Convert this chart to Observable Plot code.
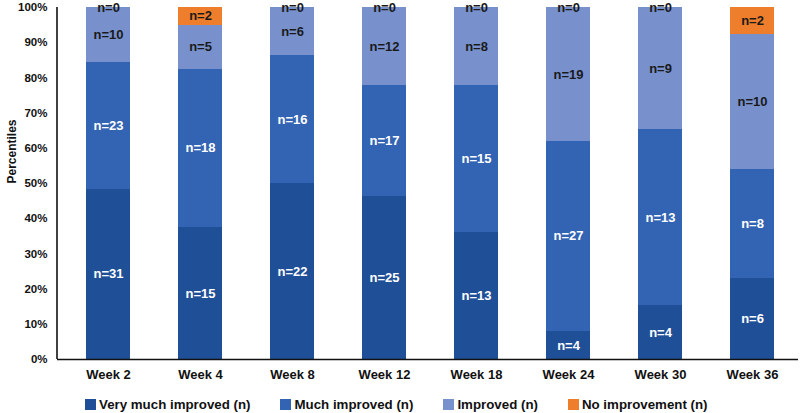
<!DOCTYPE html>
<html><head><meta charset="utf-8">
<script src="https://cdn.jsdelivr.net/npm/d3@7"></script>
<script src="https://cdn.jsdelivr.net/npm/@observablehq/plot@0.6"></script>
<style>
body{margin:0;background:#fff;font-family:"Liberation Sans",Arial,sans-serif;}
#chart svg{display:block;}
#legend{display:flex;align-items:center;height:18px;padding-top:7px;padding-left:85px;font-weight:bold;font-size:13.3px;color:#111;}
.item{display:flex;align-items:center;margin-right:30px;white-space:nowrap;}
.sw{width:11px;height:11px;margin-right:3px;}
</style></head><body><div id="chart"></div><div id="legend"></div>
<script>
const weeks = ["Week 2","Week 4","Week 8","Week 12","Week 18","Week 24","Week 30","Week 36"];
const categories = ["Very much improved (n)","Much improved (n)","Improved (n)","No improvement (n)"];
const colors = ["#1f4f97","#3363b3","#7891cd","#ee7d2c"];
const veryMuch = [31,15,22,25,13,4,4,6];
const much = [23,18,16,17,15,27,13,8];
const improved = [10,5,6,12,8,19,9,10];
const noImprovement = [0,2,0,0,0,0,0,2];
const yTicks = [0,0.1,0.2,0.3,0.4,0.5,0.6,0.7,0.8,0.9,1];
const whiteLabelCats = ["Very much improved (n)","Much improved (n)"];

const series = [veryMuch, much, improved, noImprovement];
const data = [];
weeks.forEach((w, i) => categories.forEach((c, j) => data.push({week: w, cat: c, n: series[j][i]})));

const stackOpts = {x: "week", y: "n", z: "cat", order: categories, offset: "normalize"};

const chart = Plot.plot({
  width: 800,
  height: 388,
  marginLeft: 57,
  marginRight: 2,
  marginTop: 7,
  marginBottom: 29,
  style: {fontFamily: "'Liberation Sans', Arial, sans-serif", fontWeight: "bold", background: "#fff", color: "#111"},
  x: {domain: weeks, range: [62, 798], paddingInner: 0.522, paddingOuter: 0.261},
  y: {domain: [0, 1]},
  color: {domain: categories, range: colors},
  marks: [
    Plot.barY(data, Plot.stackY({...stackOpts, fill: "cat", shapeRendering: "crispEdges"})),
    Plot.text(data, Plot.stackY({...stackOpts, text: d => whiteLabelCats.includes(d.cat) ? `n=${d.n}` : null, fill: "white", fontSize: 13, fontWeight: "bold"})),
    Plot.text(data, Plot.stackY({...stackOpts, text: d => whiteLabelCats.includes(d.cat) ? null : `n=${d.n}`, fill: "#1a1a1a", fontSize: 13, fontWeight: "bold"})),
    Plot.axisX({tickSize: 0, tickPadding: 10, fontSize: 13, fontWeight: "bold", label: null}),
    Plot.axisY({ticks: yTicks, tickFormat: d3.format(".0%"), tickSize: 0, tickPadding: 10, fontSize: 11.5, fontWeight: "bold", label: null}),
    Plot.text(["Percentiles"], {frameAnchor: "left", rotate: -90, dx: -45, fontSize: 12, fontWeight: "bold", fill: "#111"}),
    Plot.ruleY([0], {stroke: "#111", strokeWidth: 1.6})
  ]
});

// y axis domain line
const ys = chart.scale("y");
d3.select(chart).append("line")
  .attr("x1", 57).attr("x2", 57)
  .attr("y1", ys.apply(1)).attr("y2", ys.apply(0))
  .attr("stroke", "#111").attr("stroke-width", 1.6);

document.getElementById("chart").appendChild(chart);

const legend = d3.select("#legend");
categories.forEach((c, i) => {
  const it = legend.append("div").attr("class", "item");
  it.append("div").attr("class", "sw").style("background", colors[i]);
  it.append("span").text(c);
});
</script>
</body></html>
